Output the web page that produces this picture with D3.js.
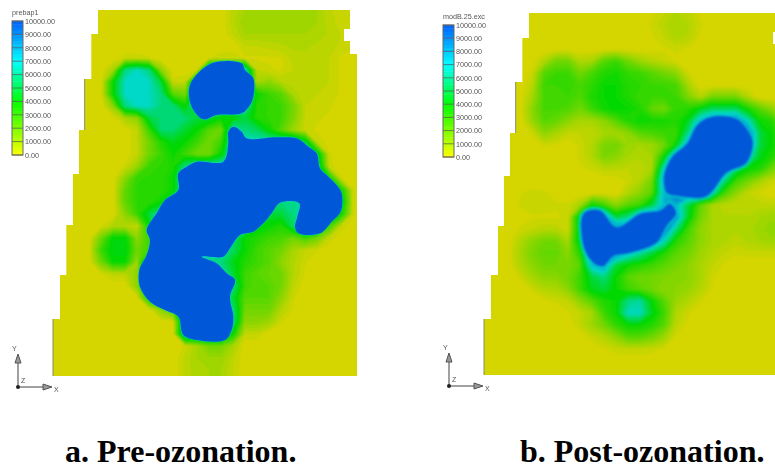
<!DOCTYPE html>
<html>
<head>
  <meta charset="utf-8">
  <title>Pre- and post-ozonation</title>
  <script src="https://d3js.org/d3.v7.min.js"></script>
  <style>
    html, body { margin: 0; background: #fff; }
    svg { display: block; }
    .legend text { font-family: 'Liberation Sans', Arial, sans-serif; font-size: 7.2px; fill: #555; }
    .triad text { font-family: 'Liberation Sans', Arial, sans-serif; font-size: 7px; fill: #555; }
    .caption { font-family: 'Liberation Serif', 'Times New Roman', serif; font-weight: bold; font-size: 32px; fill: #000; }
  </style>
</head>
<body>
  <svg id="chart" width="775" height="468"></svg>

  <script>
    // ----
    // DATA
    // ----
    // concentration in thousands, one row per model row, spaced 36 model units apart
    // trailing zeros are left out of a row
    const preValues = [
      [0,0,0,0,0,0,0,0,0,0,0,0,0,0,0,.6,1,1,1,1,1,1,1,.6,.3,.3,.3],
      [0,0,0,0,0,0,0,0,0,0,0,0,0,0,0,.7,1.2,1.2,1.2,1.2,1.2,1.2,1,.6,.4,.3,.3],
      [0,0,0,0,0,0,0,0,0,0,0,0,0,0,0,.5,1,1,1,1,1,1,.9,.7,.5,.3,.3],
      [0,0,0,0,0,0,0,0,0,0,0,0,0,0,0,0,.5,.5,.6,.7,.8,.8,.7,.7,.4,.3,.3],
      [0,0,0,0,0,0,.4,.4,.3,0,0,0,0,.2,.5,.5,.2,.2,.2,.2,.6,.7,.6,.5,.2],
      [0,0,0,0,0,1,6,7,6,1.5,0,0,.3,7,7,7,7,.5,.3,.2,.5,.6,.6,.5,.2],
      [0,0,0,0,0,4,7,7,7,5,.4,.5,7,7,7,7,7,1,1.5,.8,.5,.5,.5,.5,.2],
      [0,0,0,0,0,4,7,7,7,6,2.5,2,7,7,7,7,7,4,3,2.5,1,.5,.5,.4,.2],
      [0,0,0,0,0,1.5,6,7,7,6,5.8,4,7,7,7,7,7,3.5,3.2,3,2,.5,.4,.3,.1],
      [0,0,0,0,0,0,1,1.5,5,5.8,5.8,5.8,5,5,4,4,5,3.5,3.2,3,1.8,.5,.3,.2],
      [0,0,0,0,0,0,0,.5,3,5.8,5.8,4.8,4,2.5,2,7,6,5.5,4,2.5,1.2,.4,.2,.1],
      [0,0,0,0,0,0,0,.5,2,3.5,4.5,4,3,2,3,7,7,7,7,7,7,5,.5,.1],
      [0,0,0,0,0,0,0,.5,2,3,4,3,2,2,4,7,7,7,7,7,7,7,5,.3],
      [0,0,0,0,0,0,.3,1.2,3,3.3,3.6,6,7,7,7,7,7,7,7,7,7,7,6,.4],
      [0,0,0,0,0,0,1.5,3.2,3.3,3.3,4,7,7,7,7,7,7,7,7,7,7,7,7,4,.3],
      [0,0,0,0,0,0,2.3,3.3,3.3,3.3,4,7,7,7,7,7,7,7,7,7,7,7,7,7,4,.3],
      [0,0,0,0,0,0,2.3,3.3,3.3,4,7,7,7,7,7,7,7,7,7,6,6,7,7,7,5,.3],
      [0,0,0,0,0,0,1.5,3,5,7,7,7,7,7,7,7,7,6,5,5,6,7,7,7,4,.3],
      [0,0,0,0,.2,.8,.8,.5,4,7,7,7,7,7,7,7,7,4.5,4,3.5,5.5,7,7,3,.5],
      [0,0,0,0,2,4.2,4.2,1.5,3,7,7,7,7,7,7,6,4,3.5,3,2.8,2,3,2,.5],
      [0,0,0,0,3,4.5,4.5,2,3,7,7,7,7,7,6.5,5.5,4,3,2.5,2,1,.5,.3],
      [0,0,0,0,2,4,4,1.2,7,7,7,7,7,6,6,4.5,3.5,3,2.5,1.5,.8,.3],
      [0,0,0,0,.2,.6,.6,1.5,7,7,7,7,7,7,7,5,3,2.5,2.2,2,.8,.2],
      [0,0,0,0,0,0,0,1.5,7,7,7,7,7,7,7,6,3,2.5,2.5,2,.6],
      [0,0,0,0,0,0,0,0,4,7,7,7,7,7,7,5,2.5,2.5,2.5,1.5,.3],
      [0,0,0,0,0,0,0,0,0,1.5,3,7,7,7,7,6,2,2,2,.8,.2],
      [0,0,0,0,0,0,0,0,0,0,0,7,7,7,7,6,1.5,1.5,1.2,.3],
      [0,0,0,0,0,0,0,0,0,0,0,7,7,7,7,4,.5,.5],
      [0,0,0,0,0,0,0,0,0,0,0,.3,1,2,2,1],
      [0,0,0,0,0,0,0,0,0,0,0,.6,1,1.2,1.2,.6],
      [0,0,0,0,0,0,0,0,0,0,0,.6,.9,1,1,.5],
      [0,0,0,0,0,0,0,0,0,0,0,.6,.9,1,1,.5]
    ];

    const postValues = [
      [0,0,0,0,0,0,0,0,0,0,0,0,0,0,.2,.5,.8,.6,.2],
      [0,0,0,0,0,0,0,0,0,0,0,0,0,0,.3,.7,1,.8,.3],
      [0,0,0,0,0,0,0,0,0,0,0,0,0,0,.2,.5,.9,.7,.2],
      [0,0,0,0,0,0,0,0,0,0,0,0,0,0,0,.2,.3,.2],
      [0,0,0,0,0,.8,2,2,.8,1,2.5,3,2,1.2,.8,.5,.2],
      [0,0,0,0,.3,2.5,3,3,2,2.8,3.5,3.8,3.2,3,2.5,2,1.5,.3],
      [0,0,0,0,.6,3,3,3.2,2.8,3.3,4,4,3.5,3.3,3,3,2.8,1],
      [0,0,0,0,1,2.8,2.8,3,2.6,3.6,4,4,3.6,3,3,3,3,1.8,.8,2,2,2,.8],
      [0,0,0,0,1.5,2.8,2.8,2.6,2,3,3.8,4.2,4,3.6,2.3,2,3.2,3.5,4.5,5.5,5.5,5.5,3.8,2.5,1.5,.5],
      [0,0,0,0,1.2,2.5,2.2,1.5,1,1,1.5,2.5,3.5,4,3.8,3.8,3.5,4.5,8,10,10,10,7,4,3.5,1.5],
      [0,0,0,0,.3,1.5,1,.5,.5,.5,1,1,1.5,2.5,2.8,3,3,6,10,10,10,10,10,5,4,2],
      [0,0,0,0,0,.3,.2,0,.3,.8,1.8,2,1.2,1,1.2,2,4,9,10,10,10,10,10,5,4,3],
      [0,0,0,0,0,0,0,0,.3,.8,1.8,1.5,1,.8,1,4,10,10,10,10,10,10,7,4.5,3.5,2.5],
      [0,0,0,0,0,0,0,0,.2,.3,.6,.6,.5,.5,1,7,10,10,10,10,10,5.5,4,3.5,2,1],
      [0,0,0,0,0,0,0,0,0,0,0,0,.3,.8,2,8.5,10,10,10,10,6,3,2,1,.4],
      [0,0,0,.2,.4,.3,.1,0,0,0,0,0,.8,1.5,2.5,8,10,10,10,7,3,1.5,.5,.2],
      [0,0,0,.3,.5,.4,.3,.3,1,4,3,1.5,2.5,3,5,8,8,5,2.5,1,.6,.5,.5,.6,.6,.5],
      [0,0,0,0,.2,.2,.2,.3,5,10,10,5,6,10,10,10,9,4.5,2,1,.8,.8,.8,1,1.2,1],
      [0,0,0,.3,.5,.7,.7,.3,5,10,10,10,10,10,10,10,6,3,1.5,1,.8,.8,.9,1.2,1.4,1.2],
      [0,0,0,.8,1.5,2,2,1,5,10,10,10,10,10,10,7,3.5,2.5,1.5,1,.8,.6,.8,1,1.2,1],
      [0,0,0,1,1.8,2.3,2.3,1.5,3.5,10,10,10,8,6.5,5,3.5,2.5,2,1.2,.8,.5,.3,.4,.4,.4,.3],
      [0,0,0,.8,1.5,2,2,1.8,2.5,8,9,5,4,3.5,3,2.5,2,1.5,1,.5,.2],
      [0,0,0,.3,1,1.5,1.5,2,3,5,6,4,2.5,2,2,1.8,1.5,1.5,1,.3],
      [0,0,0,0,.3,.8,.9,1.5,3,4.5,5,4,3,2.5,2,1.5,1.5,1.3,.8,.2],
      [0,0,0,0,0,.1,.3,.5,1.5,2.5,3.5,4,6,6.5,4,2.5,1.2,.8,.3],
      [0,0,0,0,0,0,0,.2,.5,1,3,4,7,7,4.5,3,.8,.3],
      [0,0,0,0,0,0,0,0,.5,1.2,2,3.2,4,4,3.5,2.5,.6,.1],
      [0,0,0,0,0,0,0,0,0,.4,.8,1.5,2.5,2.5,2,1.2,.2],
      [0,0,0,0,0,0,0,0,0,0,.2,.4,.5,.5,.4,.2],
      [],
      [],
      []
    ];

    // saturated areas (above the top of the colour scale), in model units
    const preSaturated = [
      [[476,160],[566,160],[576,180],[601,205],[601,260],[591,285],[566,310],[491,315],[451,328],[416,290],[411,225]],
      [[526,365],[541,350],[566,365],[581,385],[671,382],[731,385],[766,410],[791,430],[801,475],[826,500],[851,525],[866,550],[863,605],[836,635],[801,670],[736,670],[726,650],[733,620],[739,580],[681,578],[656,610],[631,640],[601,665],[561,675],[531,715],[511,740],[446,740],[491,760],[521,790],[546,810],[531,860],[541,920],[536,960],[516,990],[431,990],[391,975],[376,920],[336,900],[291,875],[261,830],[259,780],[281,735],[291,690],[281,660],[311,610],[336,570],[376,540],[376,490],[401,470],[431,455],[511,455],[526,400]]
    ];
    const postSaturated = [
      [[543,471],[563,431],[608,391],[638,336],[678,311],[758,316],[798,361],[808,391],[788,451],[728,481],[668,551],[588,551],[548,541],[538,501]],
      [[298,601],[348,591],[398,641],[468,601],[528,591],[558,571],[578,601],[548,641],[518,691],[438,721],[388,731],[358,761],[328,751],[298,701]]
    ];

    // stepped left edge of the model: x of each step, and the row where it ends
    const preStepX = [135, 115, 95, 78, 60, 40, 21, 0];
    const preStepEnd = [72, 207, 360, 492, 645, 795, 927, 1098];
    const postStepX = [135, 115, 95, 78, 60, 42, 21, 0];
    const postStepEnd = [75, 207, 360, 489, 639, 786, 918, 1086];
    // right edge with its notch: x of each step, and the row where it ends
    const preRightX = [891, 873, 891, 912];
    const preRightEnd = [57, 93, 132, 1098];
    const postRightX = [885, 867, 885];
    const postRightEnd = [57, 93, 1086];
    // the two left steps that show a grey edge line
    const edgeSteps = [2, 7];

    const legendStops = [0, 1000, 2000, 3000, 4000, 5000, 6000, 7000, 8000, 9000, 10000];

    // ------
    // SCALES
    // ------
    const colorDomain = [0, 4000, 7000, 10000];
    const mapColor = d3.scaleLinear().domain(colorDomain).range(["#d5d500", "#00d800", "#00d8c8", "#0558d8"]).clamp(true);
    const legendColor = d3.scaleLinear().domain(colorDomain).range(["#ffff00", "#00ff00", "#00ffff", "#0060ff"]).clamp(true);

    const svg = d3.select("#chart");
    const defs = svg.append("defs");

    const addBlur = function (id, amount) {
      defs.append("filter").attr("id", id).attr("x", "-5%").attr("y", "-5%").attr("width", "110%").attr("height", "110%")
        .append("feGaussianBlur").attr("stdDeviation", amount);
    };
    addBlur("softPre", 0.75);
    addBlur("softPost", 0.9);
    addBlur("softer", 0.45);

    const drawPanel = function (p) {
      const nRows = p.values.length;
      const xScale = d3.scaleLinear().domain([0, 912]).range([p.left, p.left + 304]);
      const yScale = d3.scaleLinear().domain([0, 1098]).range([p.top, p.top + 366]);

      // flat grid for d3.contours, missing cells are zero
      const flat = [];
      p.values.forEach(r => {
        for (let i = 0; i < p.cols; i++) flat.push((r[i] || 0) * 1000);
      });

      const thresholds = d3.range(0, 10001, 250);
      const contours = d3.contours().size([p.cols, nRows]).thresholds(thresholds)(flat);
      const toScreen = d3.geoTransform({
        point: function (x, y) {
          this.stream.point(xScale((x - .5) * 36), yScale((y - .5) * 36));
        }
      });
      const path = d3.geoPath(toScreen);

      // outline of the model, used as the clip
      const outline = [];
      p.stepX.forEach((x, i) => {
        outline.push([x, i == 0 ? 0 : p.stepEnd[i - 1]]);
        outline.push([x, p.stepEnd[i]]);
      });
      const bottom = p.stepEnd[p.stepEnd.length - 1];
      for (let i = p.rightX.length - 1; i >= 0; i--) {
        outline.push([p.rightX[i], i == p.rightX.length - 1 ? bottom : p.rightEnd[i]]);
        outline.push([p.rightX[i], i == 0 ? 0 : p.rightEnd[i - 1]]);
      }
      const outlineLine = d3.line().x(d => xScale(d[0])).y(d => yScale(d[1]));
      defs.append("clipPath").attr("id", p.id + "Clip")
        .append("path").attr("d", outlineLine(outline) + "Z");

      const panel = svg.append("g").attr("clip-path", `url(#${p.id}Clip)`);
      const field = panel.append("g").attr("filter", `url(#${p.blur})`);

      field.selectAll("path.band")
        .data(contours)
        .join("path").attr("class", "band")
        .attr("d", path)
        .attr("fill", d => mapColor(d.value));

      const blobLine = d3.line()
        .x(d => xScale(d[0])).y(d => yScale(d[1]))
        .curve(d3.curveCatmullRomClosed);
      field.selectAll("path.saturated")
        .data(p.saturated)
        .join("path").attr("class", "saturated")
        .attr("d", d => blobLine(d))
        .attr("fill", mapColor(10000))
        .attr("stroke", mapColor(7000))
        .attr("stroke-width", p.halo)
        .attr("paint-order", "stroke");

      // grey edge lines on the long left steps
      svg.append("g").selectAll("line")
        .data(edgeSteps)
        .join("line")
        .attr("x1", i => xScale(p.stepX[i])).attr("x2", i => xScale(p.stepX[i]))
        .attr("y1", i => yScale(i == 0 ? 0 : p.stepEnd[i - 1]))
        .attr("y2", i => yScale(p.stepEnd[i]))
        .attr("stroke", "#8a8a70").attr("stroke-width", 1);

      // ------
      // LEGEND
      // ------
      const legend = svg.append("g").attr("class", "legend").attr("filter", "url(#softer)");
      const legendScale = d3.scaleLinear().domain([0, 10000]).range([p.legendBottom, p.legendTop]);
      legend.append("text").attr("x", p.legendX).attr("y", p.legendTop - 6).text(p.name);
      const steps = d3.range(0, 10000, 250);
      legend.selectAll("rect.swatch")
        .data(steps)
        .join("rect").attr("class", "swatch")
        .attr("x", p.legendX)
        .attr("width", 11)
        .attr("y", d => legendScale(d + 250))
        .attr("height", d => legendScale(d) - legendScale(d + 250) + .4)
        .attr("fill", d => legendColor(d + 125));
      legend.selectAll("line.stop")
        .data(legendStops)
        .join("line").attr("class", "stop")
        .attr("x1", p.legendX).attr("x2", p.legendX + 11)
        .attr("y1", d => legendScale(d)).attr("y2", d => legendScale(d))
        .attr("stroke", "#555").attr("stroke-opacity", .7);
      legend.append("rect")
        .attr("x", p.legendX).attr("y", p.legendTop)
        .attr("width", 11).attr("height", p.legendBottom - p.legendTop)
        .attr("fill", "none").attr("stroke", "#666");
      const legendAxis = d3.axisRight(legendScale)
        .tickValues(legendStops)
        .tickFormat(d3.format(".2f"))
        .tickSize(0)
        .tickPadding(2);
      legend.append("g")
        .attr("transform", `translate(${p.legendX + 11},0)`)
        .call(legendAxis)
        .call(g => g.select(".domain").remove());

      // ----------
      // AXIS TRIAD
      // ----------
      const [ox, oy] = p.origin;
      const triad = svg.append("g").attr("class", "triad").attr("filter", "url(#softer)");
      triad.append("line").attr("x1", ox).attr("x2", ox).attr("y1", oy).attr("y2", oy - 32).attr("stroke", "#444");
      triad.append("line").attr("x1", ox).attr("x2", ox + 33).attr("y1", oy).attr("y2", oy).attr("stroke", "#444");
      triad.append("path").attr("d", `M${ox - 3},${oy - 24}L${ox},${oy - 33}L${ox + 3},${oy - 24}Z`).attr("fill", "#999").attr("stroke", "#555");
      triad.append("path").attr("d", `M${ox + 25},${oy - 3}L${ox + 34},${oy}L${ox + 25},${oy + 3}Z`).attr("fill", "#999").attr("stroke", "#555");
      triad.append("circle").attr("cx", ox).attr("cy", oy).attr("r", 2).attr("fill", "#222");
      triad.append("text").attr("x", ox - 6).attr("y", oy - 36).text("Y");
      triad.append("text").attr("x", ox + 36).attr("y", oy + 5).text("X");
      triad.append("text").attr("x", ox + 3).attr("y", oy - 4).text("Z");

      svg.append("text").attr("class", "caption")
        .attr("x", p.captionX).attr("y", 462).text(p.caption);
    };

    drawPanel({
      id: "pre", name: "prebap1", values: preValues, saturated: preSaturated, cols: 27,
      left: 53, top: 10, stepX: preStepX, stepEnd: preStepEnd, rightX: preRightX, rightEnd: preRightEnd,
      blur: "softPre", halo: 0.8,
      legendX: 12, legendTop: 21, legendBottom: 155, origin: [18, 387],
      caption: "a. Pre-ozonation.", captionX: 65
    });
    drawPanel({
      id: "post", name: "modB.25.exc", values: postValues, saturated: postSaturated, cols: 26,
      left: 484, top: 13, stepX: postStepX, stepEnd: postStepEnd, rightX: postRightX, rightEnd: postRightEnd,
      blur: "softPost", halo: 2.5,
      legendX: 443, legendTop: 25, legendBottom: 157, origin: [449, 386],
      caption: "b. Post-ozonation.", captionX: 520
    });
  </script>
</body>
</html>
